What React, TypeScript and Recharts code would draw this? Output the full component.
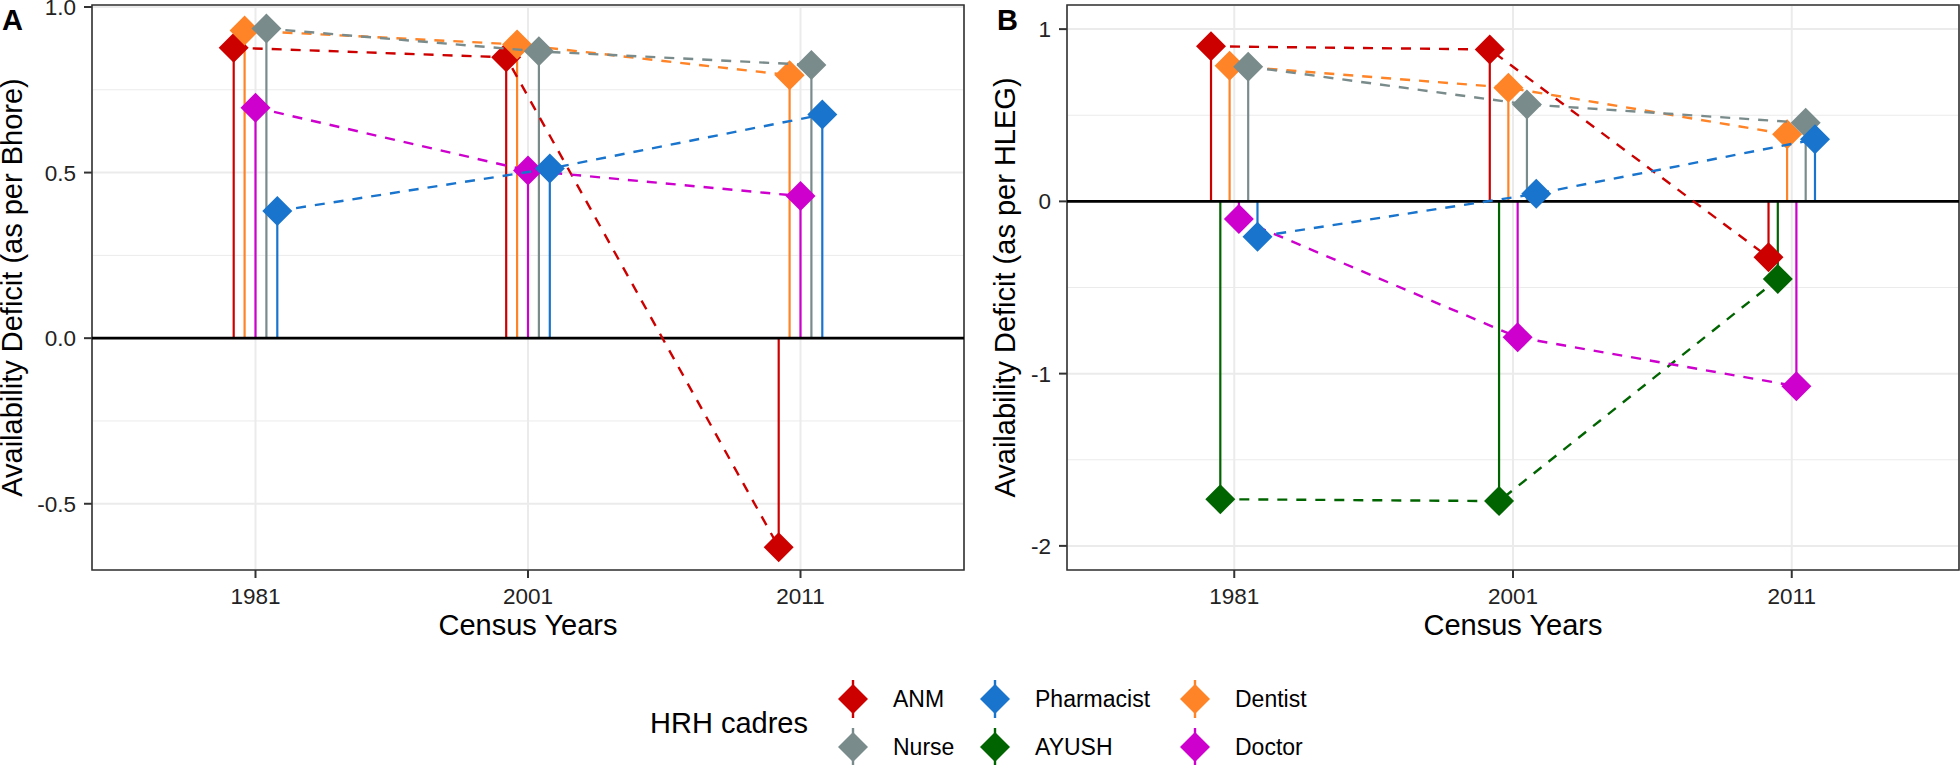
import React from 'react';
import {
  ScatterChart,
  Scatter,
  XAxis,
  YAxis,
  CartesianGrid,
  ReferenceLine,
  ReferenceArea,
  ErrorBar,
} from 'recharts';

const years = ['1981', '2001', '2011'];

// Panel A - availability deficit as per Bhore
const bhoreCadres = ['ANM', 'Dentist', 'Doctor', 'Nurse', 'Pharmacist'];
const bhoreAnm = [0.877, 0.848, -0.631];
const bhoreDentist = [0.929, 0.887, 0.794];
const bhoreDoctor = [0.696, 0.506, 0.429];
const bhoreNurse = [0.935, 0.866, 0.825];
const bhorePharmacist = [0.384, 0.512, 0.675];
const bhoreTicks = [-0.5, 0, 0.5, 1];
const bhoreMinor = [-0.25, 0.25, 0.75];

// Panel B - availability deficit as per HLEG
const hlegCadres = ['ANM', 'AYUSH', 'Dentist', 'Doctor', 'Nurse', 'Pharmacist'];
const hlegAnm = [0.9, 0.882, -0.324];
const hlegAyush = [-1.729, -1.74, -0.451];
const hlegDentist = [0.787, 0.66, 0.389];
const hlegDoctor = [-0.102, -0.789, -1.073];
const hlegNurse = [0.782, 0.563, 0.456];
const hlegPharmacist = [-0.205, 0.044, 0.36];
const hlegTicks = [-2, -1, 0, 1];
const hlegMinor = [-1.5, -0.5, 0.5];

const colors: Record<string, string> = {
  ANM: '#CD0000',
  AYUSH: '#006400',
  Dentist: '#FF8427',
  Doctor: '#CD00CD',
  Nurse: '#7A8B8B',
  Pharmacist: '#1874CD',
};

const legendRows = [
  ['ANM', 'Pharmacist', 'Dentist'],
  ['Nurse', 'AYUSH', 'Doctor'],
];

// position_dodge(width = 0.2)
function dodge(cadres: string[], values: number[][], width = 0.2) {
  const n = cadres.length;
  return cadres.map((name, i) => ({
    name,
    points: values[i].map((v, j) => ({
      x: j + 1 + ((i - (n - 1) / 2) * width) / n,
      y: v,
      stem: v > 0 ? [v, 0] : [0, -v],
    })),
  }));
}

const bhoreSeries = dodge(bhoreCadres, [bhoreAnm, bhoreDentist, bhoreDoctor, bhoreNurse, bhorePharmacist]);
const hlegSeries = dodge(hlegCadres, [hlegAnm, hlegAyush, hlegDentist, hlegDoctor, hlegNurse, hlegPharmacist]);

const diamond = (color: string) => (p: any) => {
  const { cx, cy } = p;
  if (cx == null || cy == null) return <g />;
  const r = 15;
  return <polygon points={`${cx},${cy - r} ${cx + r},${cy} ${cx},${cy + r} ${cx - r},${cy}`} fill={color} />;
};

function Panel({ series, domain, ticks, minor, fmt, yWidth, right }: any) {
  return (
    <ScatterChart width={980} height={650} margin={{ top: 5, right, bottom: 0, left: 0 }}>
      <CartesianGrid stroke="#EBEBEB" strokeWidth={2} />
      <CartesianGrid stroke="#EBEBEB" strokeWidth={1} vertical={false} horizontalValues={minor} />
      <XAxis
        type="number"
        dataKey="x"
        domain={[0.4, 3.6]}
        ticks={[1, 2, 3]}
        interval={0}
        allowDataOverflow
        tickFormatter={(v: number) => years[Math.round(v) - 1]}
        axisLine={false}
        tickLine={{ stroke: '#333', strokeWidth: 2 }}
        tickSize={8}
        tickMargin={10}
        tick={{ fill: '#222', fontSize: 22.5 }}
        height={80}
      />
      <YAxis
        type="number"
        dataKey="y"
        domain={domain}
        ticks={ticks}
        interval={0}
        allowDataOverflow
        tickFormatter={fmt}
        axisLine={false}
        tickLine={{ stroke: '#333', strokeWidth: 2 }}
        tickSize={8}
        tickMargin={8}
        tick={{ fill: '#222', fontSize: 22.5 }}
        width={yWidth}
      />
      {series.map((s: any) => (
        <Scatter
          key={s.name}
          name={s.name}
          data={s.points}
          fill={colors[s.name]}
          isAnimationActive={false}
          line={{ stroke: colors[s.name], strokeWidth: 2.4, strokeDasharray: '10 9' }}
          shape={diamond(colors[s.name])}
        >
          <ErrorBar
            dataKey="stem"
            direction="y"
            width={0}
            stroke={colors[s.name]}
            strokeWidth={2.2}
            isAnimationActive={false}
          />
        </Scatter>
      ))}
      <ReferenceLine y={0} stroke="#000" strokeWidth={2.6} />
      <ReferenceArea x1={0.4} x2={3.6} y1={domain[0]} y2={domain[1]} fill="none" stroke="#333" strokeWidth={1.6} />
    </ScatterChart>
  );
}

export default function App() {
  const title = { fontSize: 29, fill: '#000' };
  const cols = [853, 995, 1195];
  return (
    <div
      style={{
        position: 'absolute',
        left: 0,
        top: 0,
        width: 1960,
        height: 765,
        background: '#fff',
        fontFamily: '"Liberation Sans", Arial, Helvetica, sans-serif',
      }}
    >
      <div style={{ position: 'absolute', left: 0, top: 0 }}>
        <Panel
          series={bhoreSeries}
          domain={[-0.7, 1.006]}
          ticks={bhoreTicks}
          minor={bhoreMinor}
          fmt={(v: number) => v.toFixed(1)}
          yWidth={92}
          right={16}
        />
      </div>
      <div style={{ position: 'absolute', left: 980, top: 0 }}>
        <Panel
          series={hlegSeries}
          domain={[-2.14, 1.14]}
          ticks={hlegTicks}
          minor={hlegMinor}
          fmt={(v: number) => String(v)}
          yWidth={87}
          right={1}
        />
      </div>
      <svg width={1960} height={765} style={{ position: 'absolute', left: 0, top: 0, pointerEvents: 'none' }}>
        <text x={2} y={30} fontSize={29} fontWeight="bold">A</text>
        <text x={997} y={30} fontSize={29} fontWeight="bold">B</text>
        <text x={528} y={635} textAnchor="middle" {...title}>Census Years</text>
        <text x={1513} y={635} textAnchor="middle" {...title}>Census Years</text>
        <text x={22} y={287.5} textAnchor="middle" transform="rotate(-90 22 287.5)" {...title}>
          Availability Deficit (as per Bhore)
        </text>
        <text x={1015} y={287.5} textAnchor="middle" transform="rotate(-90 1015 287.5)" {...title}>
          Availability Deficit (as per HLEG)
        </text>
        <text x={650} y={733} fontSize={29}>HRH cadres</text>
        {legendRows.map((row, r) =>
          row.map((name, c) => {
            const cx = cols[c];
            const cy = 699 + r * 48;
            return (
              <g key={name}>
                <line x1={cx} x2={cx} y1={cy - 19} y2={cy + 19} stroke={colors[name]} strokeWidth={2.4} />
                <polygon points={`${cx},${cy - 15} ${cx + 15},${cy} ${cx},${cy + 15} ${cx - 15},${cy}`} fill={colors[name]} />
                <text x={cx + 40} y={cy + 8} fontSize={23} fill="#000">{name}</text>
              </g>
            );
          })
        )}
      </svg>
    </div>
  );
}
